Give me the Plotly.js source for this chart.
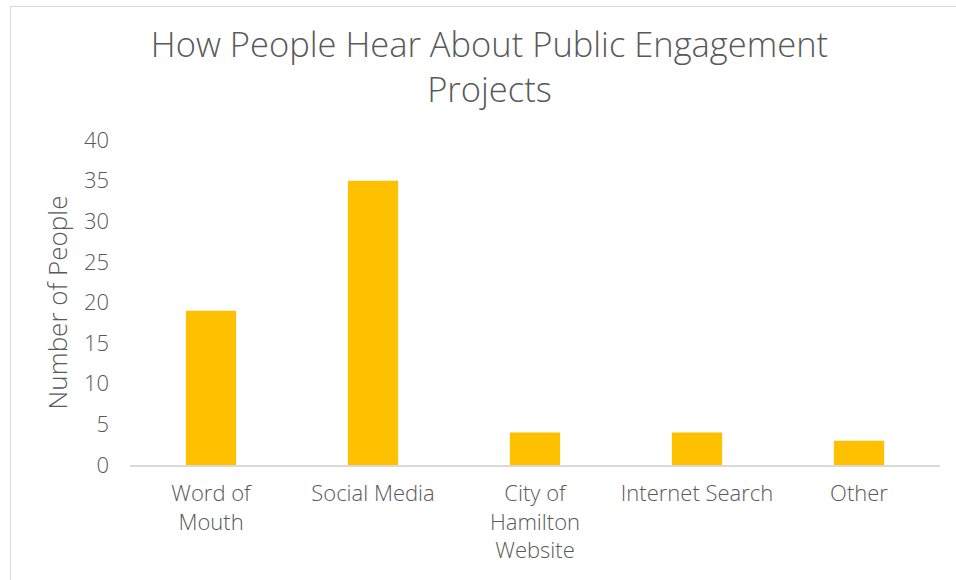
<!DOCTYPE html>
<html>
<head>
<meta charset="utf-8">
<script src="https://cdn.plot.ly/plotly-3.0.1.min.js"></script>
<style>
  html, body { margin: 0; padding: 0; background: #fff; overflow: hidden; }
  #chart { width: 956px; height: 580px; }
  #frame { position: absolute; left: 10px; top: 6px; width: 1000px; height: 700px; border: 1px solid #d9d9d9; pointer-events: none; }
</style>
</head>
<body>
<div id="chart"></div>
<div id="frame"></div>
<script>
const categories = ["Word of<br>Mouth", "Social Media", "City of<br>Hamilton<br>Website", "Internet Search", "Other"];
const values = [19, 35, 4, 4, 3];
const yTicks = [0, 5, 10, 15, 20, 25, 30, 35, 40];

const fontFam = "'Open Sans', Lato, sans-serif";
const textColor = "#595959";

Plotly.newPlot("chart", [{
  type: "bar",
  x: categories,
  y: values,
  marker: { color: "#FFC000" },
  hoverinfo: "x+y"
}], {
  width: 956,
  height: 580,
  paper_bgcolor: "#ffffff",
  plot_bgcolor: "#ffffff",
  margin: { l: 130, r: 16, t: 140, b: 115 },
  bargap: 0.69,
  showlegend: false,
  font: { family: fontFam, color: textColor, weight: 300 },
  title: {
    text: "How People Hear About Public Engagement<br>Projects",
    font: { family: fontFam, size: 34.5, color: textColor, weight: 300 },
    x: 0.512, xanchor: "center",
    y: 0.902, yanchor: "top", yref: "container"
  },
  xaxis: {
    type: "category",
    showline: true, linecolor: "#d9d9d9", linewidth: 1.5,
    showgrid: false, zeroline: false,
    ticks: "", ticklabelstandoff: 8,
    tickfont: { family: fontFam, size: 22, color: textColor, weight: 300 }
  },
  yaxis: {
    range: [0, 40],
    tickvals: yTicks,
    ticktext: yTicks.map(String),
    showline: false, showgrid: false, zeroline: false,
    ticks: "", ticklabelstandoff: 20,
    tickfont: { family: fontFam, size: 22, color: textColor, weight: 300 },
    title: { text: "Number of People", standoff: 8, font: { family: fontFam, size: 26, color: textColor, weight: 300 } }
  }
}, { displayModeBar: false, staticPlot: false });
</script>
</body>
</html>
